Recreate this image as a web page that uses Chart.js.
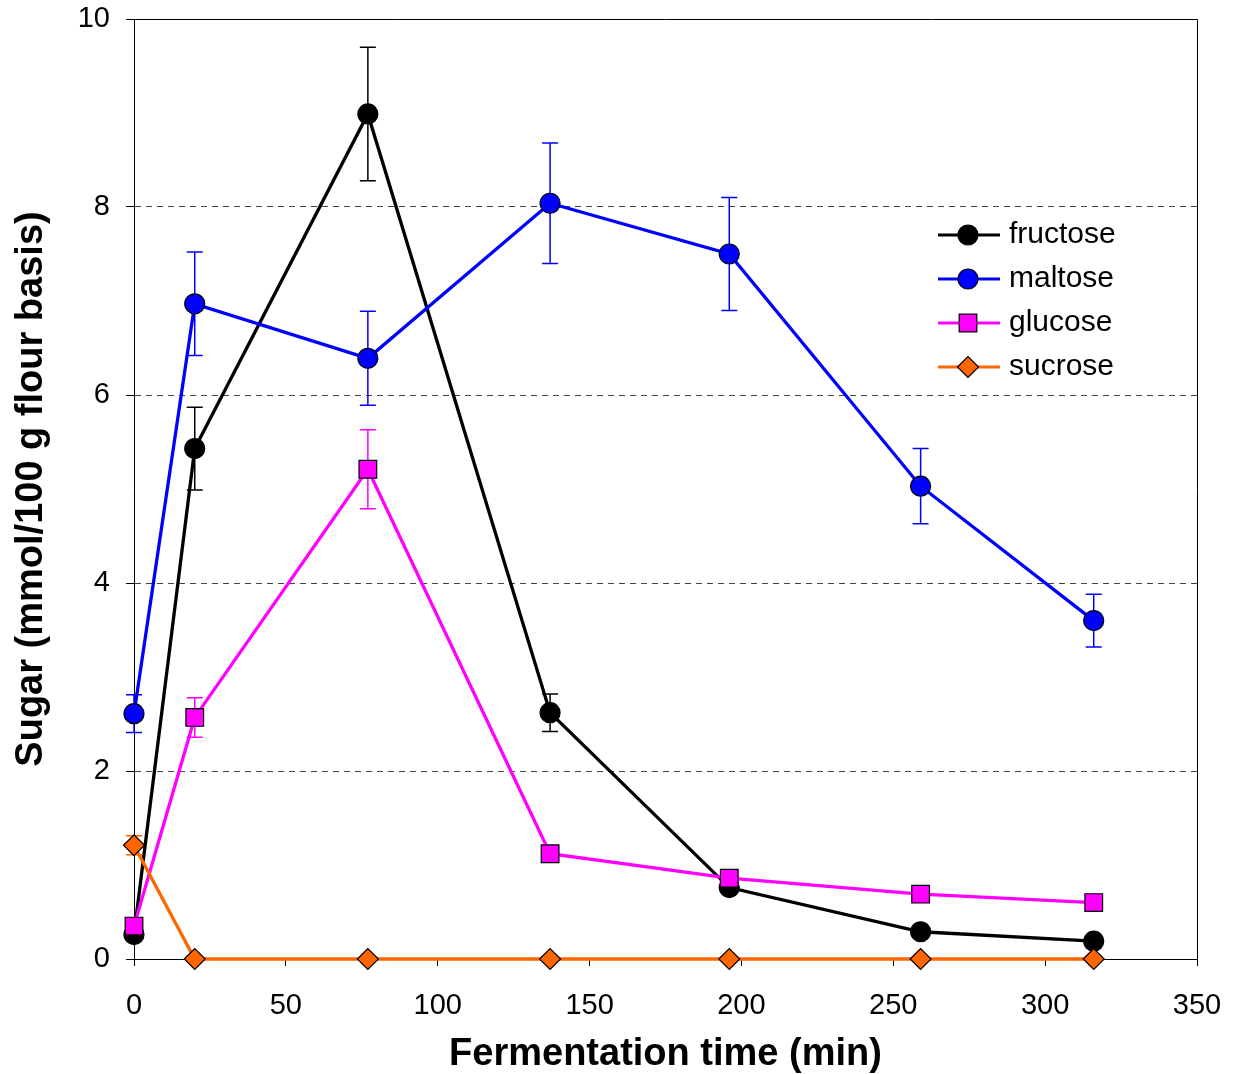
<!DOCTYPE html>
<html>
<head>
<meta charset="utf-8">
<script src="https://cdn.jsdelivr.net/npm/chart.js@4.4.0/dist/chart.umd.min.js"></script>
<style>
  html, body { margin: 0; padding: 0; background: #fff; }
  #wrap { width: 1238px; height: 1074px; }
</style>
</head>
<body>
<div id="wrap"><canvas id="myChart"></canvas></div>
<script>
// fermentation time (min)
const times = [0, 20, 77, 137, 196, 259, 316];

// sugar, mmol/100 g flour
const fructose = [0.26, 5.43, 8.99, 2.62, 0.76, 0.29, 0.19];
const maltose = [2.61, 6.97, 6.39, 8.04, 7.5, 5.03, 3.6];
const glucose = [0.35, 2.57, 5.21, 1.12, 0.86, 0.69, 0.6];
const sucrose = [1.21, 0, 0, 0, 0, 0, 0];

// +/- error bars (null = no bar)
const fructoseErr = [null, 0.44, 0.71, 0.2, null, null, null];
const maltoseErr = [0.2, 0.55, 0.5, 0.64, 0.6, 0.4, 0.28];
const glucoseErr = [null, 0.21, 0.42, null, null, null, null];
const sucroseErr = [0.1, null, null, null, null, null, null];

const xTicks = [0, 50, 100, 150, 200, 250, 300, 350];
const yTicks = [0, 2, 4, 6, 8, 10];

function pts(ys) {
  return ys.map((y, i) => ({ x: times[i], y: y }));
}

// error bars, drawn under the markers
const errorBars = {
  id: "errorBars",
  beforeDatasetsDraw(chart) {
    const ctx = chart.ctx;
    const xs = chart.scales.x;
    const ys = chart.scales.y;
    chart.data.datasets.forEach((ds) => {
      if (!ds.err) return;
      ctx.save();
      ctx.strokeStyle = ds.borderColor;
      ctx.lineWidth = 1.5;
      ds.err.forEach((e, i) => {
        if (e == null) return;
        let px = xs.getPixelForValue(ds.data[i].x);
        let top = ys.getPixelForValue(ds.data[i].y + e);
        let bot = ys.getPixelForValue(ds.data[i].y - e);
        ctx.beginPath();
        ctx.moveTo(px, top);
        ctx.lineTo(px, bot);
        ctx.moveTo(px - 8, top);
        ctx.lineTo(px + 8, top);
        ctx.moveTo(px - 8, bot);
        ctx.lineTo(px + 8, bot);
        ctx.stroke();
      });
      ctx.restore();
    });
  },
};

// top and right frame lines
const frame = {
  id: "frame",
  beforeDatasetsDraw(chart) {
    const { ctx, chartArea } = chart;
    ctx.save();
    ctx.strokeStyle = "#000";
    ctx.lineWidth = 1;
    ctx.beginPath();
    ctx.moveTo(chartArea.left, chartArea.top + 0.5);
    ctx.lineTo(chartArea.right + 0.5, chartArea.top + 0.5);
    ctx.lineTo(chartArea.right + 0.5, chartArea.bottom);
    ctx.stroke();
    ctx.restore();
  },
};

// legend inside the plot, upper right
const insideLegend = {
  id: "insideLegend",
  afterDraw(chart) {
    const ctx = chart.ctx;
    ctx.save();
    chart.data.datasets.forEach((ds, i) => {
      let y = 235 + i * 44;
      ctx.strokeStyle = ds.borderColor;
      ctx.lineWidth = 3;
      ctx.beginPath();
      ctx.moveTo(938, y);
      ctx.lineTo(1000, y);
      ctx.stroke();
      ctx.fillStyle = ds.pointBackgroundColor;
      ctx.strokeStyle = ds.pointBorderColor;
      ctx.lineWidth = ds.pointBorderWidth;
      Chart.helpers.drawPoint(ctx, { pointStyle: ds.pointStyle, radius: ds.pointRadius, rotation: 0, borderWidth: ds.pointBorderWidth }, 968, y);
      ctx.fillStyle = "#000";
      ctx.font = "30px Arial, 'Liberation Sans', sans-serif";
      ctx.textBaseline = "middle";
      ctx.textAlign = "left";
      ctx.fillText(ds.label, 1009, y);
    });
    ctx.restore();
  },
};

function series(label, ys, err, color, style, radius, order) {
  return {
    label: label,
    data: pts(ys),
    err: err,
    borderColor: color,
    borderWidth: 3.3,
    pointStyle: style,
    pointRadius: radius,
    pointHoverRadius: radius,
    pointBackgroundColor: color,
    pointBorderColor: "#000",
    pointBorderWidth: 1.2,
    tension: 0,
    clip: false,
    order: order,
  };
}

const ctx = document.getElementById("myChart");

new Chart(ctx, {
  type: "line",
  data: {
    datasets: [
      series("fructose", fructose, fructoseErr, "#000000", "circle", 10, 4),
      series("maltose", maltose, maltoseErr, "#0000FF", "circle", 10, 3),
      series("glucose", glucose, glucoseErr, "#FF00FF", "rect", 12.5, 2),
      series("sucrose", sucrose, sucroseErr, "#FF6600", "rectRot", 10.5, 1),
    ],
  },
  options: {
    responsive: true,
    maintainAspectRatio: false,
    animation: false,
    layout: { padding: { top: 19, right: 41, left: 0, bottom: 0 } },
    plugins: {
      legend: { display: false },
      tooltip: { enabled: false },
    },
    scales: {
      x: {
        type: "linear",
        min: 0,
        max: 350,
        afterBuildTicks: (scale) => {
          scale.ticks = xTicks.map((v) => ({ value: v }));
        },
        afterFit: (scale) => {
          scale.height = 115;
          scale.paddingLeft = 0;
          scale.paddingRight = 0;
        },
        grid: {
          drawOnChartArea: false,
          tickLength: 7,
          color: "#000",
        },
        border: { display: true, color: "#000", width: 1 },
        ticks: {
          color: "#000",
          padding: 23,
          font: { family: "Arial, 'Liberation Sans', sans-serif", size: 29 },
        },
        title: {
          display: true,
          text: "Fermentation time (min)",
          color: "#000",
          padding: { top: -3, bottom: -3 },
          font: { family: "Arial, 'Liberation Sans', sans-serif", size: 38, weight: "bold" },
        },
      },
      y: {
        min: 0,
        max: 10,
        afterBuildTicks: (scale) => {
          scale.ticks = yTicks.map((v) => ({ value: v }));
        },
        afterFit: (scale) => {
          scale.width = 134;
          scale.paddingTop = 0;
          scale.paddingBottom = 0;
        },
        grid: {
          tickLength: 8,
          tickColor: "#000",
          color: (c) => (c.tick && (c.tick.value === 0 || c.tick.value === 10) ? "rgba(0,0,0,0)" : "#444"),
        },
        border: { display: true, color: "#000", width: 1, dash: [6, 5] },
        ticks: {
          color: "#000",
          padding: 16,
          font: { family: "Arial, 'Liberation Sans', sans-serif", size: 29 },
        },
        title: {
          display: true,
          text: "Sugar (mmol/100 g flour basis)",
          color: "#000",
          padding: { top: 9, bottom: 9 },
          font: { family: "Arial, 'Liberation Sans', sans-serif", size: 38, weight: "bold" },
        },
      },
    },
  },
  plugins: [errorBars, frame, insideLegend],
});
</script>
</body>
</html>
